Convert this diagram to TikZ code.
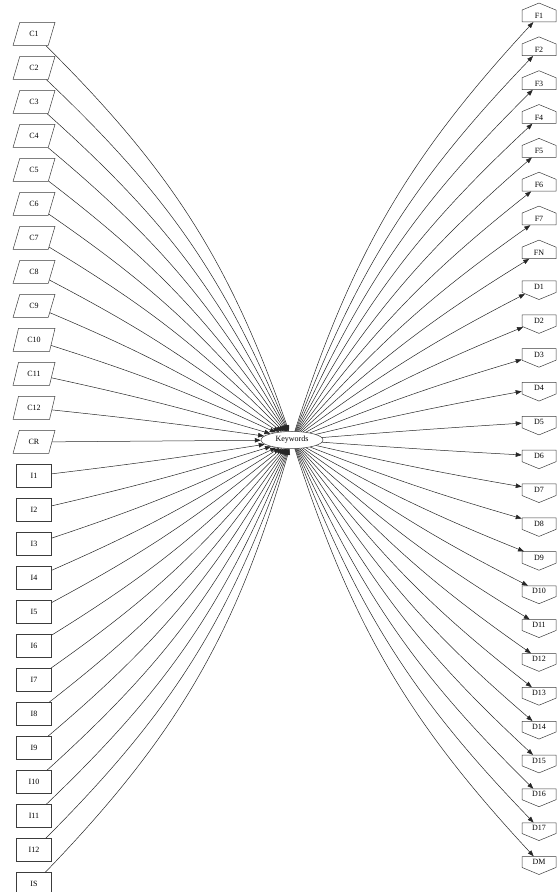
\documentclass[tikz,border=0pt]{standalone}
\usepackage{fontspec}
\setmainfont{Liberation Serif}
\usetikzlibrary{arrows.meta,positioning,shapes.geometric,shapes.symbols}
\definecolor{Trazo}{RGB}{60,60,60}
\tikzset{
  kwnode/.style={ellipse, draw=Trazo, line width=0.5pt, minimum width=62pt,
    minimum height=17pt, inner sep=0pt, font=\fontsize{8}{9}\selectfont},
  cpara/.style={trapezium, trapezium left angle=70, trapezium right angle=110,
    trapezium stretches=true,
    draw=Trazo, line width=0.5pt, minimum width=42pt, minimum height=23pt,
    inner sep=1pt, font=\fontsize{8}{9}\selectfont},
  ibox/.style={rectangle, draw=Trazo, line width=0.5pt, minimum width=35pt,
    minimum height=23pt, inner sep=1pt, font=\fontsize{8}{9}\selectfont},
  fhouse/.style={signal, signal to=north, signal from=nowhere, signal pointer angle=135,
    draw=Trazo, line width=0.5pt, minimum width=34pt, minimum height=14pt,
    inner sep=1pt, font=\fontsize{8}{9}\selectfont},
  dhouse/.style={signal, signal to=south, signal from=nowhere, signal pointer angle=135,
    draw=Trazo, line width=0.5pt, minimum width=34pt, minimum height=14pt,
    inner sep=1pt, font=\fontsize{8}{9}\selectfont},
  kwedge/.style={-{Triangle[length=6pt, width=4.5pt]}, line width=0.5pt, black!85},
}
\begin{document}
\begin{tikzpicture}[on grid]
  \useasboundingbox (0,0) rectangle (557pt,892pt);
  \node[kwnode] (kw) at (292pt,452pt) {Keywords};
  % ---- columna izquierda ----
  \node[cpara] (c1) at (34pt,858pt) {C1};
  \node[cpara, below=34pt of c1] (c2) {C2};
  \node[cpara, below=34pt of c2] (c3) {C3};
  \node[cpara, below=34pt of c3] (c4) {C4};
  \node[cpara, below=34pt of c4] (c5) {C5};
  \node[cpara, below=34pt of c5] (c6) {C6};
  \node[cpara, below=34pt of c6] (c7) {C7};
  \node[cpara, below=34pt of c7] (c8) {C8};
  \node[cpara, below=34pt of c8] (c9) {C9};
  \node[cpara, below=34pt of c9] (c10) {C10};
  \node[cpara, below=34pt of c10] (c11) {C11};
  \node[cpara, below=34pt of c11] (c12) {C12};
  \node[cpara, below=34pt of c12] (cr) {CR};
  \node[ibox, below=34pt of cr] (i1) {I1};
  \node[ibox, below=34pt of i1] (i2) {I2};
  \node[ibox, below=34pt of i2] (i3) {I3};
  \node[ibox, below=34pt of i3] (i4) {I4};
  \node[ibox, below=34pt of i4] (i5) {I5};
  \node[ibox, below=34pt of i5] (i6) {I6};
  \node[ibox, below=34pt of i6] (i7) {I7};
  \node[ibox, below=34pt of i7] (i8) {I8};
  \node[ibox, below=34pt of i8] (i9) {I9};
  \node[ibox, below=34pt of i9] (i10) {I10};
  \node[ibox, below=34pt of i10] (i11) {I11};
  \node[ibox, below=34pt of i11] (i12) {I12};
  \node[ibox, below=34pt of i12] (is) {IS};
  % ---- columna derecha ----
  \node[fhouse] (f1) at (539pt,876pt) {F1};
  \node[fhouse, below=33.84pt of f1] (f2) {F2};
  \node[fhouse, below=33.84pt of f2] (f3) {F3};
  \node[fhouse, below=33.84pt of f3] (f4) {F4};
  \node[fhouse, below=33.84pt of f4] (f5) {F5};
  \node[fhouse, below=33.84pt of f5] (f6) {F6};
  \node[fhouse, below=33.84pt of f6] (f7) {F7};
  \node[fhouse, below=33.84pt of f7] (fn) {FN};
  \node[dhouse, below=33.84pt of fn] (d1) {D1};
  \node[dhouse, below=33.84pt of d1] (d2) {D2};
  \node[dhouse, below=33.84pt of d2] (d3) {D3};
  \node[dhouse, below=33.84pt of d3] (d4) {D4};
  \node[dhouse, below=33.84pt of d4] (d5) {D5};
  \node[dhouse, below=33.84pt of d5] (d6) {D6};
  \node[dhouse, below=33.84pt of d6] (d7) {D7};
  \node[dhouse, below=33.84pt of d7] (d8) {D8};
  \node[dhouse, below=33.84pt of d8] (d9) {D9};
  \node[dhouse, below=33.84pt of d9] (d10) {D10};
  \node[dhouse, below=33.84pt of d10] (d11) {D11};
  \node[dhouse, below=33.84pt of d11] (d12) {D12};
  \node[dhouse, below=33.84pt of d12] (d13) {D13};
  \node[dhouse, below=33.84pt of d13] (d14) {D14};
  \node[dhouse, below=33.84pt of d14] (d15) {D15};
  \node[dhouse, below=33.84pt of d15] (d16) {D16};
  \node[dhouse, below=33.84pt of d16] (d17) {D17};
  \node[dhouse, below=33.84pt of d17] (dm) {DM};
  % ---- aristas de entrada ----
  \draw[kwedge] (c1) to[bend left=13] (kw);
  \draw[kwedge] (c2) to[bend left=12] (kw);
  \draw[kwedge] (c3) to[bend left=11] (kw);
  \draw[kwedge] (c4) to[bend left=10] (kw);
  \draw[kwedge] (c5) to[bend left=9] (kw);
  \draw[kwedge] (c6) to[bend left=8] (kw);
  \draw[kwedge] (c7) to[bend left=7] (kw);
  \draw[kwedge] (c8) to[bend left=5.5] (kw);
  \draw[kwedge] (c9) to[bend left=4.5] (kw);
  \draw[kwedge] (c10) to[bend left=3.5] (kw);
  \draw[kwedge] (c11) to[bend left=2] (kw);
  \draw[kwedge] (c12) to[bend left=1] (kw);
  \draw[kwedge] (cr) -- (kw);
  \draw[kwedge] (i1) to[bend right=1] (kw);
  \draw[kwedge] (i2) to[bend right=2] (kw);
  \draw[kwedge] (i3) to[bend right=3.5] (kw);
  \draw[kwedge] (i4) to[bend right=4.5] (kw);
  \draw[kwedge] (i5) to[bend right=5.5] (kw);
  \draw[kwedge] (i6) to[bend right=7] (kw);
  \draw[kwedge] (i7) to[bend right=8] (kw);
  \draw[kwedge] (i8) to[bend right=9] (kw);
  \draw[kwedge] (i9) to[bend right=10] (kw);
  \draw[kwedge] (i10) to[bend right=11] (kw);
  \draw[kwedge] (i11) to[bend right=12] (kw);
  \draw[kwedge] (i12) to[bend right=13] (kw);
  \draw[kwedge] (is) to[bend right=14] (kw);
  % ---- aristas de salida ----
  \draw[kwedge] (kw) to[bend left=12.5] (f1);
  \draw[kwedge] (kw) to[bend left=11.5] (f2);
  \draw[kwedge] (kw) to[bend left=10.5] (f3);
  \draw[kwedge] (kw) to[bend left=9.5] (f4);
  \draw[kwedge] (kw) to[bend left=8.5] (f5);
  \draw[kwedge] (kw) to[bend left=7.5] (f6);
  \draw[kwedge] (kw) to[bend left=6.5] (f7);
  \draw[kwedge] (kw) to[bend left=5.5] (fn);
  \draw[kwedge] (kw) to[bend left=4.5] (d1);
  \draw[kwedge] (kw) to[bend left=3.5] (d2);
  \draw[kwedge] (kw) to[bend left=2.5] (d3);
  \draw[kwedge] (kw) to[bend left=1.5] (d4);
  \draw[kwedge] (kw) to[bend left=0.5] (d5);
  \draw[kwedge] (kw) to[bend right=0.5] (d6);
  \draw[kwedge] (kw) to[bend right=1.5] (d7);
  \draw[kwedge] (kw) to[bend right=2.5] (d8);
  \draw[kwedge] (kw) to[bend right=3.5] (d9);
  \draw[kwedge] (kw) to[bend right=4.5] (d10);
  \draw[kwedge] (kw) to[bend right=5.5] (d11);
  \draw[kwedge] (kw) to[bend right=6.5] (d12);
  \draw[kwedge] (kw) to[bend right=7.5] (d13);
  \draw[kwedge] (kw) to[bend right=8.5] (d14);
  \draw[kwedge] (kw) to[bend right=9.5] (d15);
  \draw[kwedge] (kw) to[bend right=10.5] (d16);
  \draw[kwedge] (kw) to[bend right=11.5] (d17);
  \draw[kwedge] (kw) to[bend right=12.5] (dm);
\end{tikzpicture}
\end{document}
